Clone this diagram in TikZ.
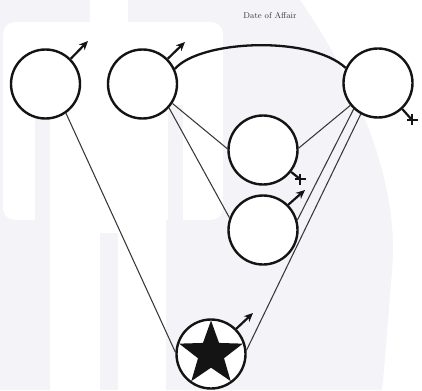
\documentclass[tikz,border=0pt]{standalone}
\usetikzlibrary{arrows.meta,shapes.geometric}
\definecolor{wm}{RGB}{243,243,248}
\definecolor{ink}{RGB}{20,20,20}
\definecolor{thinc}{RGB}{55,55,55}
\begin{document}
\begin{tikzpicture}[x=1pt,y=-1pt,
 person/.style={circle,draw=ink,line width=2.4pt,minimum size=69pt,inner sep=0pt,fill=white},
 link/.style={draw=thinc,line width=1.05pt},
 bond/.style={draw=ink,line width=2.3pt},
 malesign/.style={draw=ink,line width=2.2pt,-{Stealth[length=9pt,width=8pt]}},
 femstub/.style={draw=ink,line width=2.2pt},
 fembar/.style={draw=ink,line width=2.8pt},
 lbl/.style={font=\fontsize{8.5}{10}\selectfont,text=black!78}]
\useasboundingbox (0,0) rectangle (422,390);
% faint watermark
\fill[white] (0,0) rectangle (422,390);
\fill[wm] (0,0) -- (300,0) .. controls (355,80) and (400,180) .. (392,270) .. controls (388,320) and (385,360) .. (382,390) -- (0,390) -- cycle;
\fill[white, rounded corners=12pt] (3,22) rectangle (223,220);
\fill[white] (90,-1) rectangle (128,30);
\fill[white] (50,200) rectangle (166,391);
\fill[wm] (0,220) rectangle (50,390);
\fill[wm] (35,105) rectangle (50,220);
\fill[wm] (168,105) rectangle (183,220);
\fill[wm] (100,233) rectangle (118,390);
% people
\node[person] (c1) at (45.5,84) {};
\node[person] (c2) at (142.5,84) {};
\node[person] (c3) at (378,83) {};
\node[person] (c4) at (263,150) {};
\node[person] (c5) at (263,230) {};
\node[person] (c6) at (211,354) {};
\node[star,star points=5,star point ratio=2.45,fill=ink,inner sep=0pt,minimum size=67pt] (st) at (c6.center) {};
\node[lbl] (t) at (270,16) {Date of Affair};
% relations
\draw[bond] (c2.25) .. controls (200,40) and (310,35) .. (c3.155);
\draw[link] (c1.-55) -- (c6.177);
\draw[link] (c2.-33) -- (c4.178);
\draw[link] (c2.-42) -- (c5.160);
\draw[link] (c3.219) -- (c4.3);
\draw[link] (c3.227) -- (c5.16);
\draw[link] (c3.241) -- (c6.6);
% male signs
\coordinate (m1) at (88,41);
\coordinate (m2) at (185,42);
\coordinate (m5) at (305,190);
\coordinate (m6) at (253,313);
\draw[malesign] (c1.45) -- (m1);
\draw[malesign] (c2.45) -- (m2);
\draw[malesign] (c5.45) -- (m5);
\draw[malesign] (c6.45) -- (m6);
% female signs
\coordinate (f3) at (412,120);
\coordinate (f4) at (300,179);
\draw[femstub] (c3.-47) -- (f3);
\draw[fembar] ([xshift=-5.5pt]f3) -- ([xshift=5.5pt]f3) ([yshift=-5.5pt]f3) -- ([yshift=5.5pt]f3);
\draw[femstub] (c4.-38) -- (f4);
\draw[fembar] ([xshift=-5.5pt]f4) -- ([xshift=5.5pt]f4) ([yshift=-5.5pt]f4) -- ([yshift=5.5pt]f4);
\end{tikzpicture}
\end{document}
